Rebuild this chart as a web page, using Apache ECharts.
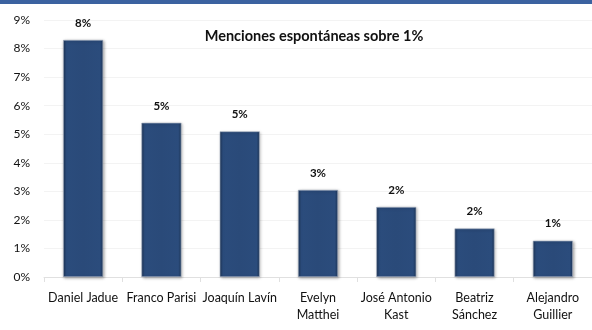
<!DOCTYPE html>
<html><head><meta charset="utf-8">
<script src="https://cdn.jsdelivr.net/npm/echarts@6/dist/echarts.min.js"></script>
<style>html,body{margin:0;padding:0;background:#fff}#c{width:592px;height:330px}</style>
</head><body><div id="c"></div>
<script>
const categories = ['Daniel Jadue','Franco Parisi','Joaquín Lavín','Evelyn\nMatthei','José Antonio\nKast','Beatriz\nSánchez','Alejandro\nGuillier'];
const values = [8.3, 5.4, 5.1, 3.05, 2.45, 1.7, 1.27];
const valueLabels = ['8%','5%','5%','3%','2%','2%','1%'];
const yTicks = [0,1,2,3,4,5,6,7,8,9];
const title = 'Menciones espontáneas sobre 1%';

const chart = echarts.init(document.getElementById('c'));
const font = 'Lato, "Open Sans", sans-serif';
chart.setOption({
  animation:false,
  graphic:[{type:'rect',shape:{x:0,y:0,width:592,height:4},style:{fill:'#3b62a0'}}],
  title:{text:title,left:309,top:24,textAlign:'center',textStyle:{fontFamily:font,fontSize:14.5,fontWeight:'bold',color:'#111'}},
  grid:{left:44,right:0,top:20,bottom:53},
  xAxis:{type:'category',data:categories,
    axisLine:{lineStyle:{color:'#e0e0e0'}},
    axisTick:{show:true,length:5,lineStyle:{color:'#e0e0e0'}},
    axisLabel:{fontFamily:font,fontSize:12.5,color:'#111',margin:12,lineHeight:17,interval:0}},
  yAxis:{type:'value',min:0,max:9,interval:1,
    axisLabel:{formatter:v=>yTicks[v]+'%',fontFamily:font,fontSize:12,color:'#111',margin:14},
    splitLine:{lineStyle:{color:'#f3f3f3'}},axisLine:{show:false},axisTick:{show:false}},
  series:[{type:'bar',data:values,barWidth:40,
    itemStyle:{
      color:{type:'linear',x:0,y:0,x2:1,y2:0,colorStops:[{offset:0,color:'#1e3659'},{offset:0.08,color:'#2b4c7c'},{offset:0.5,color:'#2a4a79'},{offset:0.92,color:'#2b4c7c'},{offset:1,color:'#1e3659'}]},
      borderColor:'#a9b4c4',borderWidth:0.6,
      shadowColor:'rgba(0,0,0,0.35)',shadowBlur:3,shadowOffsetX:1,shadowOffsetY:1},
    label:{show:true,position:'top',distance:11,formatter:p=>valueLabels[p.dataIndex],fontFamily:font,fontSize:11.5,fontWeight:'bold',color:'#111'}
  }]
});
</script></body></html>
